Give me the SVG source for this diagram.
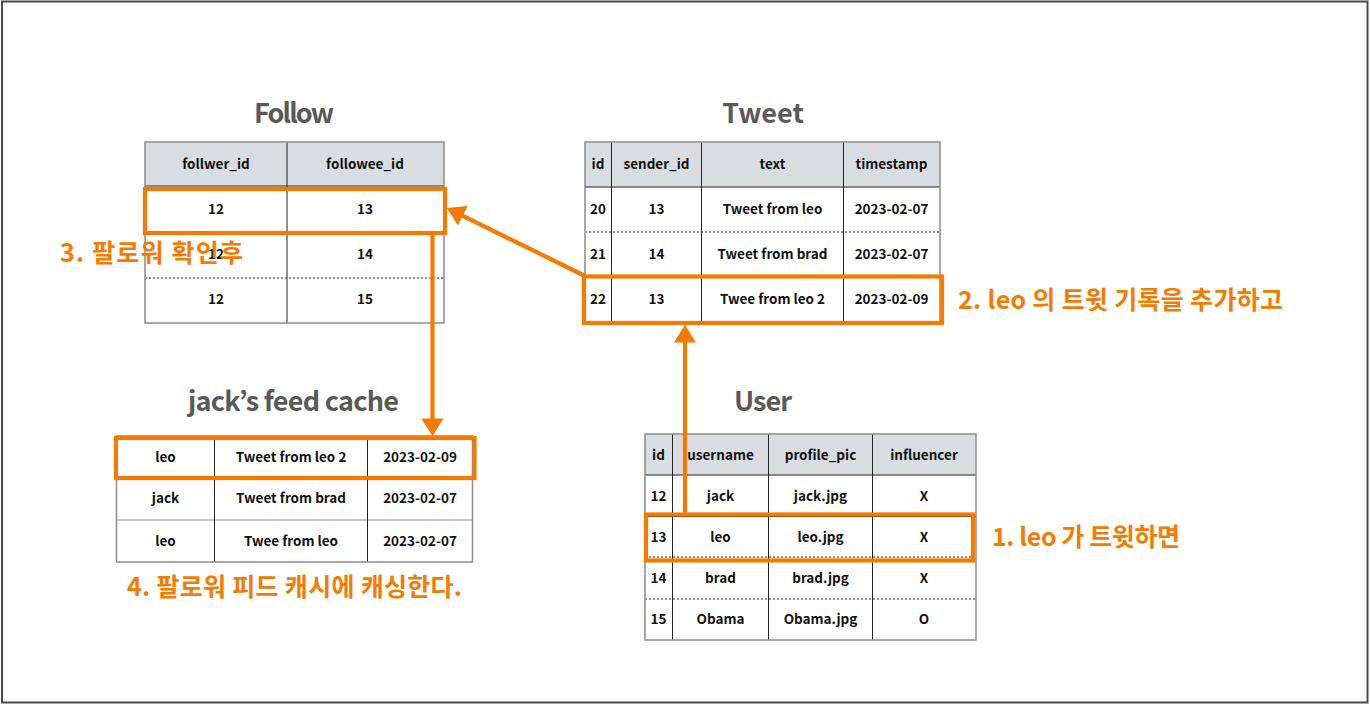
<svg xmlns="http://www.w3.org/2000/svg" width="1370" height="705" viewBox="0 0 1370 705">
<style>
.bg{fill:#ffffff}
.frame{fill:none;stroke:#4a4a4a;stroke-width:2}
.outer{fill:none;stroke:#8c8c8c;stroke-width:1.5}
.hdr{fill:#d9dde1}
.vl{stroke:#222;stroke-width:1}
.hl{stroke:#222;stroke-width:1}
.hg{stroke:#8c8c8c;stroke-width:1.2}
.dl{stroke:#222;stroke-width:1;stroke-dasharray:2 2}
.cell{font-family:"Noto Sans CJK KR","Noto Sans",sans-serif;font-size:13.5px;font-weight:700;fill:#111;text-anchor:middle}
.title{font-family:"Noto Sans CJK KR","Noto Sans",sans-serif;font-size:27px;font-weight:700;fill:#595959;text-anchor:middle}
.hl-box{fill:none;stroke:#F47B00;stroke-width:4.2}
.conn{stroke:#F47B00;stroke-width:4.2;fill:none}
.note{font-family:"Noto Sans CJK KR","Noto Sans",sans-serif;font-size:25px;font-weight:700;fill:#F47B00}
</style>
<defs>
<marker id="ah" markerUnits="userSpaceOnUse" markerWidth="18" markerHeight="22" viewBox="0 0 16 20" refX="4" refY="10" orient="auto">
<path d="M0,0 L16,10 L0,20 Z" fill="#F47B00"/>
</marker>
</defs>
<rect class="bg" x="0" y="0" width="1370" height="705"/>
<rect class="frame" x="2" y="1.5" width="1365.5" height="701"/>

<g id="follow">
<text class="title" x="294" y="123" textLength="80">Follow</text>
<rect class="hdr" x="145" y="142" width="299" height="44"/>
<line class="hl" x1="145" y1="186" x2="444" y2="186"/>
<line class="hl" x1="145" y1="232" x2="444" y2="232"/>
<line class="dl" x1="145" y1="278" x2="444" y2="278"/>
<line class="vl" x1="287" y1="142" x2="287" y2="323"/>
<rect class="outer" x="145" y="142" width="299" height="181"/>
<text class="cell" x="216" y="169">follwer_id</text>
<text class="cell" x="365" y="169">followee_id</text>
<text class="cell" x="216" y="214">12</text>
<text class="cell" x="365" y="214">13</text>
<text class="cell" x="216" y="259">12</text>
<text class="cell" x="365" y="259">14</text>
<text class="cell" x="216" y="304">12</text>
<text class="cell" x="365" y="304">15</text>
</g>

<g id="tweet">
<text class="title" x="763" y="123">Tweet</text>
<rect class="hdr" x="585" y="142" width="355" height="45"/>
<line class="hl" x1="585" y1="187" x2="940" y2="187"/>
<line class="dl" x1="585" y1="232" x2="940" y2="232"/>
<line class="hl" x1="585" y1="277" x2="940" y2="277"/>
<line class="vl" x1="611.5" y1="142" x2="611.5" y2="323"/>
<line class="vl" x1="701.5" y1="142" x2="701.5" y2="323"/>
<line class="vl" x1="843.5" y1="142" x2="843.5" y2="323"/>
<rect class="outer" x="585" y="142" width="355" height="181"/>
<text class="cell" x="598" y="169">id</text>
<text class="cell" x="656.5" y="169">sender_id</text>
<text class="cell" x="772.5" y="169">text</text>
<text class="cell" x="891.5" y="169">timestamp</text>
<text class="cell" x="598" y="214">20</text>
<text class="cell" x="656.5" y="214">13</text>
<text class="cell" x="772.5" y="214">Tweet from leo</text>
<text class="cell" x="891.5" y="214">2023-02-07</text>
<text class="cell" x="598" y="259">21</text>
<text class="cell" x="656.5" y="259">14</text>
<text class="cell" x="772.5" y="259">Tweet from brad</text>
<text class="cell" x="891.5" y="259">2023-02-07</text>
<text class="cell" x="598" y="304">22</text>
<text class="cell" x="656.5" y="304">13</text>
<text class="cell" x="772.5" y="304">Twee from leo 2</text>
<text class="cell" x="891.5" y="304">2023-02-09</text>
</g>

<g id="user">
<text class="title" x="763" y="411" textLength="58">User</text>
<rect class="hdr" x="645" y="434" width="331" height="41"/>
<line class="hl" x1="645" y1="475" x2="976" y2="475"/>
<line class="hl" x1="645" y1="516.5" x2="976" y2="516.5"/>
<line class="dl" x1="645" y1="557" x2="976" y2="557"/>
<line class="dl" x1="645" y1="599" x2="976" y2="599"/>
<line class="vl" x1="672.5" y1="434" x2="672.5" y2="640"/>
<line class="vl" x1="768.5" y1="434" x2="768.5" y2="640"/>
<line class="vl" x1="872.5" y1="434" x2="872.5" y2="640"/>
<rect class="outer" x="645" y="434" width="331" height="206"/>
<text class="cell" x="658.5" y="460">id</text>
<text class="cell" x="720.5" y="460">username</text>
<text class="cell" x="820.5" y="460">profile_pic</text>
<text class="cell" x="924" y="460">influencer</text>
<text class="cell" x="658.5" y="501">12</text>
<text class="cell" x="720.5" y="501">jack</text>
<text class="cell" x="820.5" y="501">jack.jpg</text>
<text class="cell" x="924" y="501">X</text>
<text class="cell" x="658.5" y="542">13</text>
<text class="cell" x="720.5" y="542">leo</text>
<text class="cell" x="820.5" y="542">leo.jpg</text>
<text class="cell" x="924" y="542">X</text>
<text class="cell" x="658.5" y="583">14</text>
<text class="cell" x="720.5" y="583">brad</text>
<text class="cell" x="820.5" y="583">brad.jpg</text>
<text class="cell" x="924" y="583">X</text>
<text class="cell" x="658.5" y="624">15</text>
<text class="cell" x="720.5" y="624">Obama</text>
<text class="cell" x="820.5" y="624">Obama.jpg</text>
<text class="cell" x="924" y="624">O</text>
</g>

<g id="feed-cache">
<text class="title" x="293.5" y="411" textLength="211">jack’s feed cache</text>
<line class="hg" x1="116.5" y1="478" x2="472.5" y2="478"/>
<line class="hg" x1="116.5" y1="520" x2="472.5" y2="520"/>
<line class="vl" x1="214.5" y1="436" x2="214.5" y2="562"/>
<line class="vl" x1="367.5" y1="436" x2="367.5" y2="562"/>
<rect class="outer" x="116.5" y="436" width="356" height="126"/>
<text class="cell" x="165.5" y="462">leo</text>
<text class="cell" x="291" y="462">Tweet from leo 2</text>
<text class="cell" x="420" y="462">2023-02-09</text>
<text class="cell" x="165.5" y="503">jack</text>
<text class="cell" x="291" y="503">Tweet from brad</text>
<text class="cell" x="420" y="503">2023-02-07</text>
<text class="cell" x="165.5" y="546">leo</text>
<text class="cell" x="291" y="546">Twee from leo</text>
<text class="cell" x="420" y="546">2023-02-07</text>
</g>

<g id="highlights">
<rect class="hl-box" x="145" y="189" width="300" height="44"/>
<rect class="hl-box" x="584" y="276.5" width="358" height="46.5"/>
<rect class="hl-box" x="646" y="514.5" width="327" height="46"/>
<rect class="hl-box" x="116" y="438" width="358.5" height="40"/>
</g>

<g id="connectors">
<line class="conn" x1="685" y1="512.5" x2="685" y2="338" marker-end="url(#ah)"/>
<line class="conn" x1="585" y1="276" x2="458.8" y2="213.8" marker-end="url(#ah)"/>
<line class="conn" x1="432.5" y1="235" x2="432.5" y2="423" marker-end="url(#ah)"/>
</g>

<g id="notes">
<text class="note" x="992" y="546" textLength="188">1. leo 가 트윗하면</text>
<text class="note" x="958" y="309" textLength="325">2. leo 의 트윗 기록을 추가하고</text>
<text class="note" x="60" y="262" textLength="183">3. 팔로워 확인후</text>
<text class="note" x="127" y="596" textLength="335">4. 팔로워 피드 캐시에 캐싱한다.</text>
</g>
</svg>
